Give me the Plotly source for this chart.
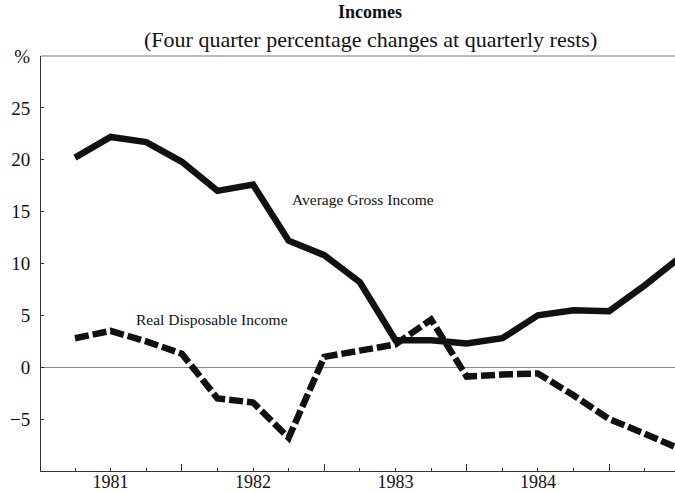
import plotly.graph_objects as go

# Quarterly observations, 1980 Q4 .. 1985 Q1 (index 0..17)
quarters = list(range(18))
avg_gross_income = [20.2, 22.2, 21.7, 19.8, 17.0, 17.6, 12.2, 10.8, 8.2,
                    2.6, 2.6, 2.3, 2.8, 5.0, 5.5, 5.4, 7.9, 10.6]
real_disposable_income = [2.8, 3.5, 2.5, 1.3, -3.0, -3.4, -6.8, 1.0, 1.6,
                          2.2, 4.6, -0.9, -0.7, -0.6, -2.7, -5.0, -6.4, -7.9]

year_tick_pos = [1, 5, 9, 13]
year_labels = ["1981", "1982", "1983", "1984"]
mid_tick_pos = [3, 7, 11, 15]
y_tick_vals = [-5, 0, 5, 10, 15, 20, 25, 30]
y_tick_text = ["\u22125", "0", "5", "10", "15", "20", "25", "%"]

FONT = "Liberation Serif"
INK = "#111111"

fig = go.Figure()
fig.add_trace(go.Scatter(
    x=quarters, y=avg_gross_income, mode="lines", name="Average Gross Income",
    line=dict(color=INK, width=6.5), showlegend=False))
fig.add_trace(go.Scatter(
    x=quarters, y=real_disposable_income, mode="lines", name="Real Disposable Income",
    line=dict(color=INK, width=6.5, dash="14px,4px"), showlegend=False))

fig.update_layout(
    width=675, height=492,
    margin=dict(l=41, r=0, t=56, b=21),
    paper_bgcolor="white", plot_bgcolor="white",
    font=dict(family=FONT, color=INK, size=19),
    xaxis=dict(
        range=[-0.955, 16.85], tickvals=year_tick_pos, ticktext=year_labels,
        ticks="inside", ticklen=3, tickcolor="#333", tickwidth=1,
        minor=dict(ticks="inside", tick0=0, dtick=1, ticklen=3, tickcolor="#333"),
        showline=True, linecolor="#333", linewidth=1,
        showgrid=False, zeroline=False, automargin=False,
        ticklabelstandoff=-6,
        tickfont=dict(family=FONT, size=18, color=INK),
    ),
    xaxis2=dict(
        range=[-0.955, 16.85], overlaying="x", anchor="y", side="bottom",
        tickvals=mid_tick_pos, showticklabels=False,
        ticks="inside", ticklen=7, tickcolor="#333", tickwidth=1,
        showline=False, showgrid=False, zeroline=False,
    ),
    yaxis=dict(
        range=[-10, 30], tickvals=y_tick_vals, ticktext=y_tick_text,
        ticks="inside", ticklen=3, tickcolor="#333",
        showline=True, linecolor="#333", linewidth=1,
        showgrid=False, zeroline=True, zerolinecolor="#8a8a8a", zerolinewidth=1,
        automargin=False, ticklabelstandoff=6,
        tickfont=dict(family=FONT, size=19, color=INK),
    ),
    shapes=[dict(type="line", xref="paper", yref="paper", x0=0, x1=1, y0=1, y1=1,
                 line=dict(color="#777", width=1))],
    annotations=[
        dict(text="<b>Incomes</b>", xref="paper", yref="paper", x=0.519, y=1.106,
             xanchor="center", yanchor="middle", showarrow=False,
             font=dict(family=FONT, size=18, color=INK)),
        dict(text="(Four quarter percentage changes at quarterly rests)",
             xref="paper", yref="paper", x=0.52, y=1.0386,
             xanchor="center", yanchor="middle", showarrow=False,
             font=dict(family=FONT, size=22, color=INK)),
        dict(text="Average Gross Income", x=8.1, y=16.2, xanchor="center",
             yanchor="middle", showarrow=False, font=dict(family=FONT, size=15.5, color=INK)),
        dict(text="Real Disposable Income", x=3.85, y=4.6, xanchor="center",
             yanchor="middle", showarrow=False, font=dict(family=FONT, size=15.5, color=INK)),
    ],
)
# empty trace so the overlay axis (long mid-year ticks) is drawn
fig.add_trace(go.Scatter(x=[None], y=[None], xaxis="x2", showlegend=False, hoverinfo="skip"))

fig.write_html(
    "out.html",
    config={"displayModeBar": False},
    post_script="document.body.style.margin='0';document.body.style.overflow='hidden';",
)
